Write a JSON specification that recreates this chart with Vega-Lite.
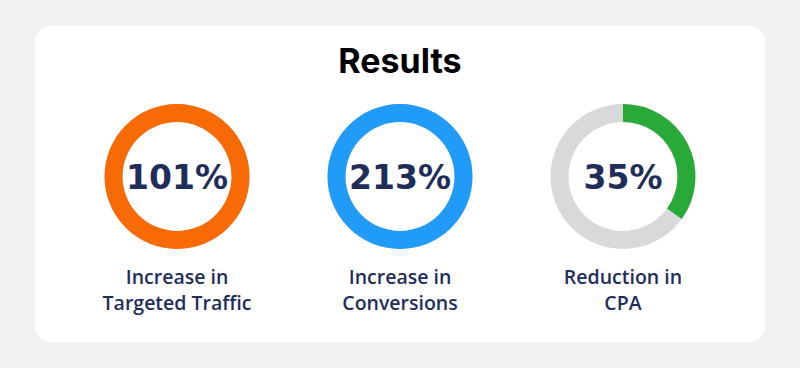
{
  "$schema": "https://vega.github.io/schema/vega-lite/v6.json",
  "width": 730,
  "height": 316,
  "autosize": {"type": "none"},
  "padding": {"left": 35, "right": 35, "top": 26, "bottom": 26},
  "background": "#f1f2f4",
  "config": {"view": {"fill": "white", "cornerRadius": 16, "stroke": null}},
  "datasets": {
    "metrics": [
      {"i": 0, "label": "Increase in\nTargeted Traffic", "pct": 1.01},
      {"i": 1, "label": "Increase in\nConversions", "pct": 2.13},
      {"i": 2, "label": "Reduction in\nCPA", "pct": 0.35}
    ],
    "rings": [
      {"i": 0, "seg": "track", "t0": 0, "t1": 1},
      {"i": 0, "seg": "Increase in Targeted Traffic", "t0": 0, "t1": 1},
      {"i": 1, "seg": "track", "t0": 0, "t1": 1},
      {"i": 1, "seg": "Increase in Conversions", "t0": 0, "t1": 1},
      {"i": 2, "seg": "track", "t0": 0, "t1": 1},
      {"i": 2, "seg": "Reduction in CPA", "t0": 0, "t1": 0.35}
    ],
    "heading": [
      {"i": 1, "text": "Results"}
    ]
  },
  "layer": [
    {
      "data": {"name": "rings"},
      "mark": {"type": "arc", "radius": 72.5, "radius2": 54.5},
      "encoding": {
        "x": {"field": "i", "type": "quantitative", "stack": null, "scale": {"domain": [-0.637, 2.637], "nice": false, "zero": false}, "axis": null},
        "y": {"datum": 150.5, "type": "quantitative", "stack": null, "scale": {"domain": [0, 316], "reverse": true, "nice": false, "zero": false}, "axis": null},
        "theta": {"field": "t0", "type": "quantitative", "stack": null, "scale": {"domain": [0, 1], "range": [0, 6.2832]}},
        "theta2": {"field": "t1"},
        "color": {"field": "seg", "type": "nominal", "scale": {"domain": ["track", "Increase in Targeted Traffic", "Increase in Conversions", "Reduction in CPA"], "range": ["#d9d9d9", "#f86a05", "#219bf8", "#29aa38"]}, "legend": null}
      }
    },
    {
      "data": {"name": "metrics"},
      "mark": {"type": "text", "font": "DejaVu Sans", "fontWeight": "bold", "fontSize": 33, "color": "#1f2d5a", "align": "center", "baseline": "alphabetic"},
      "encoding": {
        "x": {"field": "i", "type": "quantitative"},
        "y": {"datum": 163, "type": "quantitative"},
        "text": {"field": "pct", "type": "quantitative", "format": ".0%"}
      }
    },
    {
      "data": {"name": "metrics"},
      "mark": {"type": "text", "font": "Open Sans", "fontWeight": 600, "fontSize": 19.5, "color": "#1f2d5a", "align": "center", "baseline": "alphabetic", "lineBreak": "\n", "lineHeight": 26},
      "encoding": {
        "x": {"field": "i", "type": "quantitative"},
        "y": {"datum": 258, "type": "quantitative"},
        "text": {"field": "label", "type": "nominal"}
      }
    },
    {
      "data": {"name": "heading"},
      "mark": {"type": "text", "font": "Inter", "fontWeight": "bold", "fontSize": 34, "color": "#000000", "align": "center", "baseline": "alphabetic"},
      "encoding": {
        "x": {"field": "i", "type": "quantitative"},
        "y": {"datum": 47, "type": "quantitative"},
        "text": {"field": "text", "type": "nominal"}
      }
    }
  ]
}
